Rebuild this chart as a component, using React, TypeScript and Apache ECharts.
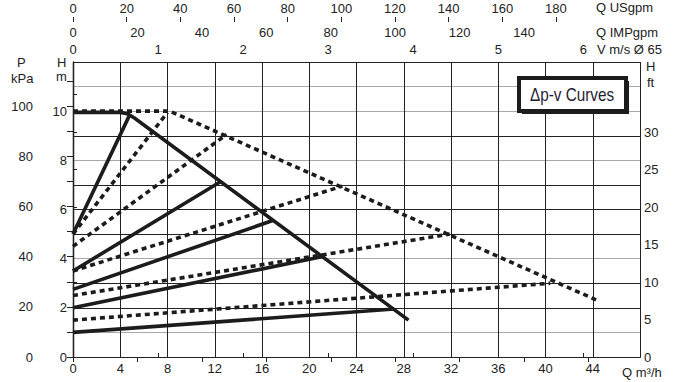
import React, { useEffect, useRef } from "react";
import * as echarts from "echarts";

// ---------- axis ranges and tick labels ----------
const qMax = 48; // m³/h at the right edge of the grid
const hMax = 12; // m at the top edge of the grid
const qLabels = [0, 4, 8, 12, 16, 20, 24, 28, 32, 36, 40, 44];
const usgpmLabels = [0, 20, 40, 60, 80, 100, 120, 140, 160, 180];
const impgpmLabels = [0, 20, 40, 60, 80, 100, 120, 140];
const impgpmTicks = [0, 20, 40, 60, 80, 100, 120, 140, 160];
const velocityLabels = [0, 1, 2, 3, 4, 5, 6];
const kpaLabels = [0, 20, 40, 60, 80, 100];
const kpaTicks = [0, 10, 20, 30, 40, 50, 60, 70, 80, 90, 100, 110];
const mLabels = [0, 2, 4, 6, 8, 10];
const ftLabels = [0, 5, 10, 15, 20, 25, 30];
const ftTicks = [0, 5, 10, 15, 20, 25, 30, 35];

// unit conversions (m³/h -> other flow units, m -> kPa / ft)
const USGPM_PER_M3H = 4.4029;
const IMPGPM_PER_M3H = 3.6662;
const M3H_PER_MS = 7.2; // velocity in DN65 pipe
const KPA_PER_M = 9.80665;
const FT_PER_M = 3.28084;

// ---------- curves: [Q m³/h, H m] ----------
const maxSolid = [[0, 9.95], [4.0, 9.95], [4.6, 9.9], [5.2, 9.72], [28.4, 1.5]];
const maxDotted = [[0, 10], [8.2, 10], [44.4, 2.3]];
const solid1 = [[0, 5.0], [4.8, 9.85]];
const solid2 = [[0, 3.5], [12.45, 7.12]];
const solid3 = [[0, 2.75], [16.9, 5.55]];
const solid4 = [[0, 2.0], [21.05, 4.08]];
const solid5 = [[0, 1.0], [27.2, 1.95]];
const dotted1 = [[0, 5.0], [8.0, 9.95]];
const dotted2 = [[0, 4.5], [13.0, 9.05]];
const dotted3 = [[0, 3.5], [22.8, 6.95]];
const dotted4 = [[0, 2.5], [31.9, 5.0]];
const dotted5 = [[0, 1.5], [40.4, 3.0]];

const solidCurves = [maxSolid, solid1, solid2, solid3, solid4, solid5];
const dottedCurves = [maxDotted, dotted1, dotted2, dotted3, dotted4, dotted5];

const FONT = "'Liberation Sans', Arial, Helvetica, sans-serif";
const INK = "#222";
const labelStyle = { color: INK, fontFamily: FONT, fontSize: 13 };

// per-line grid colours (some of the reference's lines print lighter)
const hGridColors = ["#222", "#a8a8a8", "#222", "#222", "#a8a8a8", "#222", "#222", "#222", "#a8a8a8", "#222", "#a8a8a8", "#a8a8a8", "#222"];

export default function App() {
  const ref = useRef<HTMLDivElement>(null);
  useEffect(() => {
    document.body.style.margin = "0";
    const chart = echarts.init(ref.current!, null, { renderer: "svg" });
    const lineSeries = (data: number[][], dotted: boolean) => ({
      type: "line",
      xAxisIndex: 0,
      yAxisIndex: 0,
      data,
      symbol: "none",
      silent: true,
      z: dotted ? 3 : 4,
      lineStyle: {
        color: "#1c1c1c",
        width: 3.6,
        type: dotted ? [5, 4] : "solid",
        cap: "butt",
        join: "miter",
      },
    });
    const txt = (text: string, left: number, top: number) => ({
      type: "text",
      left,
      top,
      style: { text, fill: INK, font: `13px ${FONT}` },
    });
    chart.setOption({
      animation: false,
      backgroundColor: "#fff",
      grid: { left: 73, right: 36, top: 62, bottom: 25, containLabel: false },
      xAxis: [
        {
          type: "value",
          position: "bottom",
          min: 0,
          max: qMax,
          interval: 4,
          axisLine: { show: true, lineStyle: { color: INK, width: 1.2 } },
          axisTick: { show: false },
          axisLabel: { ...labelStyle, margin: 5, customValues: qLabels },
          splitLine: { show: true, lineStyle: { color: "#222", width: 1 } },
        },
        {
          type: "value",
          position: "top",
          min: 0,
          max: qMax / M3H_PER_MS,
          axisLine: { show: true, lineStyle: { color: INK, width: 1.2 } },
          axisTick: { show: true, length: 4, customValues: velocityLabels, lineStyle: { color: INK } },
          axisLabel: { ...labelStyle, margin: 6, customValues: velocityLabels },
          splitLine: { show: false },
        },
        {
          type: "value",
          position: "top",
          offset: 40,
          min: 0,
          max: qMax * IMPGPM_PER_M3H,
          axisLine: { show: true, lineStyle: { color: INK, width: 1.2 } },
          axisTick: { show: true, inside: true, length: 5, customValues: impgpmTicks, lineStyle: { color: INK } },
          axisLabel: { ...labelStyle, inside: true, margin: 4, customValues: impgpmLabels },
          splitLine: { show: false },
        },
        {
          type: "value",
          position: "top",
          offset: 40,
          min: 0,
          max: qMax * USGPM_PER_M3H,
          axisLine: { show: false },
          axisTick: { show: true, length: 5, customValues: usgpmLabels, lineStyle: { color: INK } },
          axisLabel: { ...labelStyle, margin: 7, customValues: usgpmLabels },
          splitLine: { show: false },
        },
      ],
      yAxis: [
        {
          type: "value",
          position: "left",
          min: 0,
          max: hMax,
          interval: 1,
          axisLine: { show: true, lineStyle: { color: INK, width: 1.2 } },
          axisTick: { show: false },
          axisLabel: { ...labelStyle, margin: 6, customValues: mLabels },
          splitLine: { show: true, lineStyle: { color: hGridColors, width: 1.2 } },
        },
        {
          type: "value",
          position: "left",
          offset: 32,
          min: 0,
          max: hMax * KPA_PER_M,
          axisLine: { show: true, lineStyle: { color: INK, width: 1.2 } },
          axisTick: { show: true, length: 6, customValues: kpaTicks, lineStyle: { color: INK } },
          axisLabel: { ...labelStyle, margin: 8, customValues: kpaLabels },
          splitLine: { show: false },
        },
        {
          type: "value",
          position: "right",
          min: 0,
          max: hMax * FT_PER_M,
          axisLine: { show: true, lineStyle: { color: INK, width: 1.2 } },
          axisTick: { show: true, length: 4, customValues: ftTicks, lineStyle: { color: INK } },
          axisLabel: { ...labelStyle, margin: 4, customValues: ftLabels },
          splitLine: { show: false },
        },
      ],
      series: [
        ...dottedCurves.map((d) => lineSeries(d, true)),
        ...solidCurves.map((d) => lineSeries(d, false)),
      ],
      graphic: [
        txt("P", 17, 56),
        txt("kPa", 11, 72),
        txt("H", 57, 56),
        txt("m", 56, 70),
        txt("H", 646, 60),
        txt("ft", 647, 76),
        txt("Q m³/h", 622, 366),
        txt("Q USgpm", 596, 1),
        txt("Q IMPgpm", 596, 26),
        txt("V m/s Ø 65", 597, 43),
        // legend box with drop shadow
        { type: "rect", z: 10, shape: { x: 522, y: 81, width: 107, height: 33 }, style: { fill: "#1c1c1c" } },
        { type: "rect", z: 11, shape: { x: 519, y: 78, width: 107, height: 33 }, style: { fill: "#fff", stroke: "#1c1c1c", lineWidth: 4 } },
        {
          type: "text",
          z: 12,
          x: 572,
          y: 95,
          scaleX: 0.85,
          style: { text: "Δp-v Curves", fill: "#1e2230", font: `18px ${FONT}`, align: "center", verticalAlign: "middle" },
        },
      ],
    });
    return () => chart.dispose();
  }, []);
  return <div ref={ref} style={{ width: 676, height: 382 }} />;
}
